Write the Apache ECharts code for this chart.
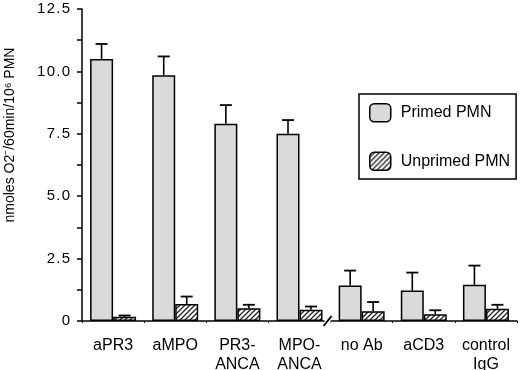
<!DOCTYPE html>
<html>
<head>
<meta charset="utf-8">
<script src="https://cdn.jsdelivr.net/npm/echarts@6/dist/echarts.min.js"></script>
<style>html,body{margin:0;padding:0;background:#fff;}#c{width:520px;height:370px;}</style>
</head>
<body>
<div id="c"></div>
<script>
var categories = ['aPR3', 'aMPO', 'PR3-\nANCA', 'MPO-\nANCA', 'no Ab', 'aCD3', 'control\nIgG'];
var primed = [10.5, 9.85, 7.9, 7.5, 1.42, 1.22, 1.45];
var primedErr = [11.1, 10.6, 8.65, 8.05, 2.02, 1.94, 2.22];
var unprimed = [0.17, 0.68, 0.51, 0.45, 0.39, 0.27, 0.49];
var unprimedErr = [0.22, 0.98, 0.65, 0.58, 0.76, 0.43, 0.65];
var yTickLabels = ['0', '2.5', '5.0', '7.5', '10.0', '12.5'];
var seriesNames = ['Primed PMN', 'Unprimed PMN'];

var FONT = 'Liberation Sans, Arial, sans-serif';
var BARW = 0.37;

function hatch() {
  var c = document.createElement('canvas');
  c.width = 5; c.height = 5;
  var g = c.getContext('2d');
  g.fillStyle = '#ffffff';
  g.fillRect(0, 0, 5, 5);
  g.strokeStyle = '#222';
  g.lineWidth = 1.3;
  g.beginPath();
  g.moveTo(-1, 6); g.lineTo(6, -1);
  g.moveTo(-6, 6); g.lineTo(1, -1);
  g.moveTo(4, 6); g.lineTo(11, -1);
  g.stroke();
  return c;
}

function errData(vals, errs) {
  return vals.map(function (v, i) { return [i, v, errs[i]]; });
}

function errSeries(vals, errs, side) {
  return {
    type: 'custom',
    z: 5,
    silent: true,
    data: errData(vals, errs),
    encode: { x: 0, y: [1, 2] },
    renderItem: function (params, api) {
      var band = api.size([1, 0])[0];
      var off = side * band * BARW / 2;
      var p0 = api.coord([api.value(0), api.value(1)]);
      var p1 = api.coord([api.value(0), api.value(2)]);
      var x = p0[0] + off;
      var cap = 6;
      return {
        type: 'group',
        children: [
          { type: 'line', shape: { x1: x, y1: p0[1], x2: x, y2: p1[1] }, style: { stroke: '#000', lineWidth: 1.6 } },
          { type: 'line', shape: { x1: x - cap, y1: p1[1], x2: x + cap, y2: p1[1] }, style: { stroke: '#000', lineWidth: 1.8 } }
        ]
      };
    }
  };
}

var chart = echarts.init(document.getElementById('c'), null, { renderer: 'canvas' });
var pattern = { image: hatch(), repeat: 'repeat' };

chart.setOption({
  backgroundColor: '#fff',
  animation: false,
  textStyle: { fontFamily: FONT, color: '#000' },
  grid: { left: 82, right: 3, top: 9, bottom: 49, containLabel: false, outerBoundsMode: 'none' },
  legend: {
    data: seriesNames,
    orient: 'vertical',
    left: 359,
    top: 94,
    padding: [9, 6, 8, 10],
    itemWidth: 21,
    itemHeight: 18,
    itemGap: 29,
    borderColor: '#000',
    borderWidth: 1.5,
    backgroundColor: '#fff',
    textStyle: { fontFamily: FONT, fontSize: 16, color: '#000', padding: [0, 0, 0, 5] },
    itemStyle: { borderColor: '#000', borderWidth: 1.5 }
  },
  xAxis: {
    type: 'category',
    data: categories,
    axisLine: { lineStyle: { color: '#000', width: 1.5 } },
    axisTick: { show: true, length: 2, lineStyle: { color: '#000' } },
    axisLabel: { color: '#000', fontSize: 16, fontFamily: FONT, margin: 15, lineHeight: 19, interval: 0 }
  },
  yAxis: {
    type: 'value',
    min: 0,
    max: 12.5,
    interval: 2.5,
    name: 'nmoles O2\u207B/60min/10\u2076 PMN',
    nameLocation: 'middle',
    nameRotate: 90,
    nameGap: 65,
    nameTextStyle: { fontFamily: FONT, fontSize: 14, color: '#000', padding: [0, 0, 0, 60] },
    splitLine: { show: false },
    axisLine: { show: true, lineStyle: { color: '#000', width: 1.5 } },
    axisTick: { show: true, length: 5, lineStyle: { color: '#000', width: 1.5 } },
    minorTick: { show: true, splitNumber: 2, length: 5, lineStyle: { color: '#000', width: 1.5 } },
    axisLabel: {
      color: '#000', fontSize: 15, fontFamily: FONT, margin: 12,
      formatter: function (v) { return yTickLabels[Math.round(v / 2.5)].split('').join('\u200A'); }
    }
  },
  series: [
    {
      name: seriesNames[0],
      type: 'bar',
      data: primed,
      barWidth: (BARW * 100) + '%',
      barGap: '0%',
      itemStyle: { color: '#dadada', borderColor: '#000', borderWidth: 1.5 }
    },
    {
      name: seriesNames[1],
      type: 'bar',
      data: unprimed,
      barWidth: (BARW * 100) + '%',
      barGap: '0%',
      itemStyle: { color: pattern, borderColor: '#000', borderWidth: 1.5 }
    },
    errSeries(primed, primedErr, -1),
    errSeries(unprimed, unprimedErr, 1)
  ]
});

var pA = chart.convertToPixel({ xAxisIndex: 0 }, 3);
var pB = chart.convertToPixel({ xAxisIndex: 0 }, 4);
var py = chart.convertToPixel({ yAxisIndex: 0 }, 0);
var bx = (pA + pB) / 2 - 3;
chart.setOption({
  graphic: [
    { type: 'rect', shape: { x: bx - 3, y: py - 2, width: 6, height: 4 }, style: { fill: '#fff' }, z: 10 },
    { type: 'line', shape: { x1: bx - 4, y1: py + 5, x2: bx + 4, y2: py - 5 }, style: { stroke: '#000', lineWidth: 2 }, z: 11 }
  ]
});
</script>
</body>
</html>
